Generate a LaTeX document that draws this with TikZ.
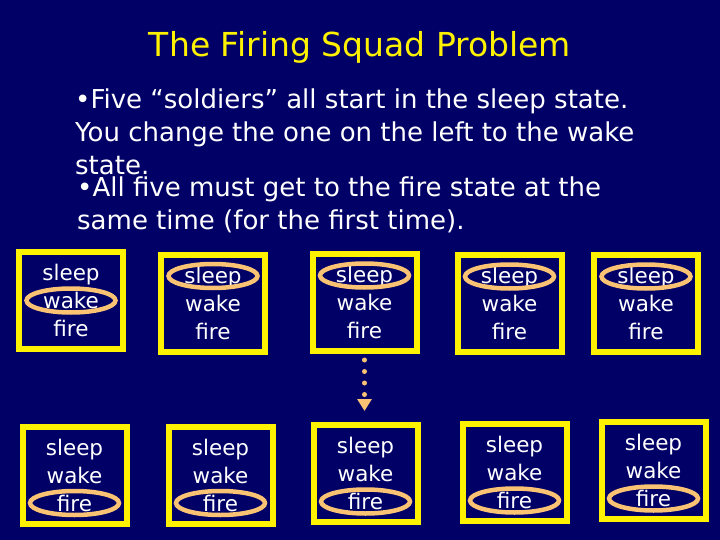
\documentclass[tikz,border=0pt]{standalone}
\usepackage{fontspec}
\setmainfont{DejaVu Sans}
\usetikzlibrary{arrows.meta,shapes.geometric}

\definecolor{slidebg}{RGB}{0,0,102}
\definecolor{peach}{RGB}{250,195,115}

\begin{document}
\begin{tikzpicture}[x=1pt,y=-1pt]
    \tikzset{cell/.style= {draw=yellow, rectangle
    , line width=6pt
    , minimum width=104pt
    , minimum height=97pt
    , text=white
    , align=center
    , font=\fontsize{21.5}{28}\selectfont
      }
    , oval/.style={draw=peach, ellipse, line width=4.5pt
    , minimum width=89pt, minimum height=24pt, inner sep=0pt}
    , bullets/.style={text=white, align=left, anchor=north west
    , inner sep=0pt, font=\fontsize{26}{33}\selectfont}
    }

\fill[slidebg] (0,0) rectangle (720,540);
\useasboundingbox (0,0) rectangle (720,540);

\node [text=yellow, font=\fontsize{33}{36}\selectfont] (title) at (360,47) {The Firing Squad Problem};

\node [bullets] (para1) at (75,89) {•Five “soldiers” all start in the sleep state.\\You change the one on the left to the wake\\state.};
\node [bullets] (para2) at (77,177) {•All five must get to the fire state at the\\same time (for the first time).};

% first step
\node [cell] (t1) at (71,300.5) {sleep\\wake\\fire};
\node [cell] (t2) at (213,303) {sleep\\wake\\fire};
\node [cell] (t3) at (364.5,302.5) {sleep\\wake\\fire};
\node [cell] (t4) at (509.5,303.5) {sleep\\wake\\fire};
\node [cell] (t5) at (646,303.5) {sleep\\wake\\fire};

% final step
\node [cell] (b1) at (74.5,475) {sleep\\wake\\fire};
\node [cell] (b2) at (220.5,475) {sleep\\wake\\fire};
\node [cell] (b3) at (365.5,473.5) {sleep\\wake\\fire};
\node [cell] (b4) at (514.5,472.5) {sleep\\wake\\fire};
\node [cell] (b5) at (653.5,470.5) {sleep\\wake\\fire};

\node [oval] (o1) at (t1.center) {};
\node [oval] (o2) at ([yshift=27pt]t2.center) {};
\node [oval] (o3) at ([yshift=27pt]t3.center) {};
\node [oval] (o4) at ([yshift=27pt]t4.center) {};
\node [oval] (o5) at ([yshift=27pt]t5.center) {};

\node [oval] (f1) at ([yshift=-28pt]b1.center) {};
\node [oval] (f2) at ([yshift=-28pt]b2.center) {};
\node [oval] (f3) at ([yshift=-28pt]b3.center) {};
\node [oval] (f4) at ([yshift=-28pt]b4.center) {};
\node [oval] (f5) at ([yshift=-28pt]b5.center) {};

 \draw[peach, line width=5pt, line cap=round, dash pattern=on 0pt off 11.5pt
   , shorten <=6pt, shorten >=11pt, -{Triangle[width=14pt,length=12pt]}]
  (t3.south) -- (t3.south |- b3.north);
\end{tikzpicture}
\end{document}
